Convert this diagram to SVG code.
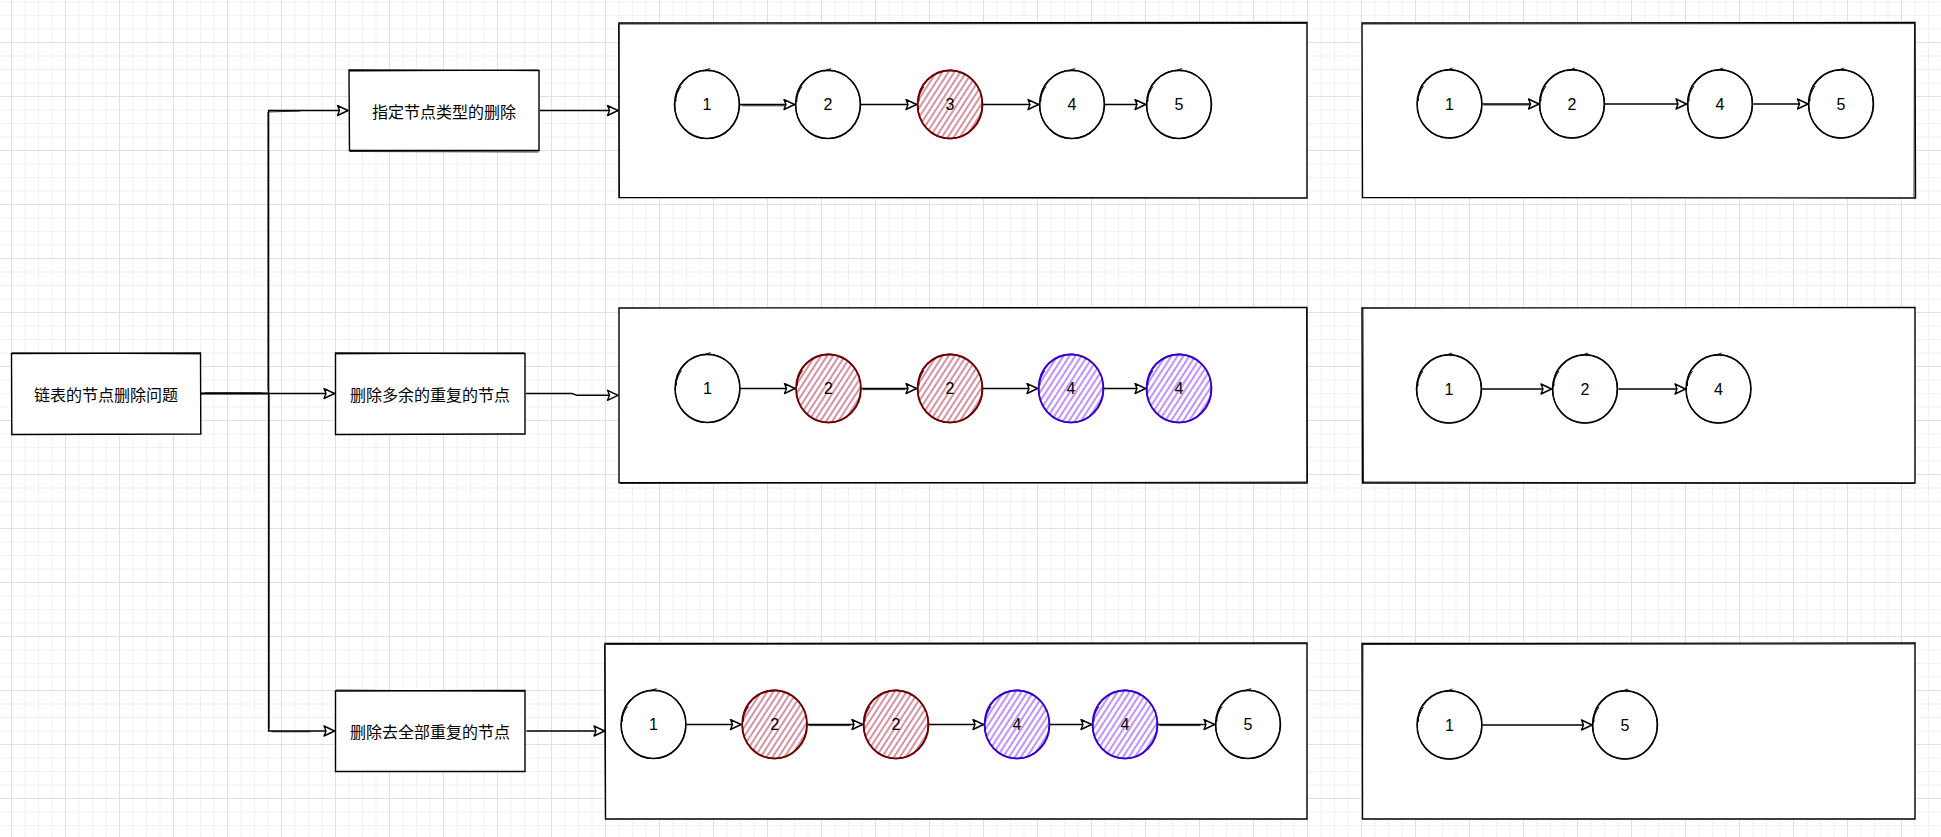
<svg xmlns="http://www.w3.org/2000/svg" xmlns:xlink="http://www.w3.org/1999/xlink" width="1941" height="837" viewBox="0 0 1941 837">
<style>
.sk{fill:none;stroke:#000;stroke-width:1.3;stroke-linejoin:round;stroke-linecap:round}
.sk2{fill:none;stroke:#000;stroke-width:0.8;stroke-linecap:round}
.box{fill:#fff;stroke:#000;stroke-width:1.4}
.cjk{font-family:"Noto Sans CJK SC","Liberation Sans",sans-serif;font-size:16px;fill:#000;text-anchor:middle;dominant-baseline:central}
.num{font-family:"Liberation Sans","DejaVu Sans",sans-serif;font-size:16px;fill:#000;text-anchor:middle;dominant-baseline:central}
.ln{fill:none;stroke:#000;stroke-width:1.4;marker-end:url(#ah)}
</style>
<defs>
<pattern id="grid" patternUnits="userSpaceOnUse" width="54" height="54" x="11" y="42">
<path d="M14,0V54M27.5,0V54M41,0V54M0,14H54M0,27.5H54M0,41H54" stroke="#f1f1f1" stroke-width="1"/>
<path d="M0.5,0V54M0,0.5H54" stroke="#e0e0e0" stroke-width="1"/>
</pattern>
<pattern id="hR" patternUnits="userSpaceOnUse" width="5" height="6" patternTransform="rotate(33)">
<line x1="1" y1="0" x2="1" y2="6" stroke="#a20025" stroke-width="1" stroke-opacity="0.85"/>
</pattern>
<pattern id="hB" patternUnits="userSpaceOnUse" width="5" height="6" patternTransform="rotate(33)">
<line x1="1" y1="0" x2="1" y2="6" stroke="#6a00ff" stroke-width="1" stroke-opacity="0.85"/>
</pattern>
<marker id="ah" markerUnits="userSpaceOnUse" markerWidth="14" markerHeight="12" refX="12" refY="6" orient="auto">
<path d="M1.5,1 L12,6 L1.5,11 L3.5,6 Z" fill="#fff" stroke="#000" stroke-width="1.4" stroke-linejoin="round"/>
</marker>
<g id="circ">
<path d="M-32.5,0C-32.5,-19 -18,-34 0,-34C18,-34 32.5,-19 32.5,0C32.5,19 18,34 0,34C-18,34 -32.5,19 -32.5,0Z" fill="#fff" stroke="#000" stroke-width="1.5"/>
<path d="M-31,-3C-33,-21 -16,-35.5 2,-34.5C20,-33 33.5,-17 32,2C31,20 16,35 -2,34C-20,33 -33.5,18 -32,-2C-31.5,-8 -29,-14 -26,-18" fill="none" stroke="#000" stroke-width="1"/>
<path d="M-4,-33.5L3,-36" fill="none" stroke="#000" stroke-width="0.9"/>
</g>
<g id="circR">
<path d="M-32.5,0C-32.5,-19 -18,-34 0,-34C18,-34 32.5,-19 32.5,0C32.5,19 18,34 0,34C-18,34 -32.5,19 -32.5,0Z" fill="url(#hR)" stroke="#6f0000" stroke-width="1.8"/>
<path d="M-31,-3C-33,-21 -16,-35.5 2,-34.5C20,-33 33.5,-17 32,2C31,20 16,35 -2,34C-20,33 -33.5,18 -32,-2C-31.5,-8 -29,-14 -26,-18" fill="none" stroke="#6f0000" stroke-width="1.1"/>
</g>
<g id="circB">
<path d="M-32.5,0C-32.5,-19 -18,-34 0,-34C18,-34 32.5,-19 32.5,0C32.5,19 18,34 0,34C-18,34 -32.5,19 -32.5,0Z" fill="url(#hB)" stroke="#3700cc" stroke-width="1.8"/>
<path d="M-31,-3C-33,-21 -16,-35.5 2,-34.5C20,-33 33.5,-17 32,2C31,20 16,35 -2,34C-20,33 -33.5,18 -32,-2C-31.5,-8 -29,-14 -26,-18" fill="none" stroke="#3700cc" stroke-width="1.1"/>
</g>
</defs>
<rect x="0" y="0" width="1941" height="837" fill="#fff"/>
<rect x="0" y="0" width="1941" height="837" fill="url(#grid)"/>

<!-- panels -->
<g id="panel1"><path class="box" d="M619,23 L1307,22.5 L1307,198 L619,197.5 Z"/><path class="sk2" d="M620,24 L1306,23.5 M618.5,24 L619.5,197"/></g>
<g id="panel2"><path class="box" d="M619,308 L1307,307.5 L1307,483 L619,482.5 Z"/><path class="sk2" d="M620,483.5 L1306,482 M1306.5,309 L1307.5,482"/></g>
<g id="panel3"><path class="box" d="M605,643.5 L1307,643 L1307,819 L605.5,819 Z"/><path class="sk2" d="M606,644.5 L1306,643.8 M604.5,645 L605.5,818"/></g>
<g id="panel4"><path class="box" d="M1362,23 L1915,22.5 L1915.5,198 L1362.5,197.5 Z"/><path class="sk2" d="M1363,24 L1914,23.6 M1914.5,24 L1914,197"/></g>
<g id="panel5"><path class="box" d="M1362,308 L1915,307.5 L1915,483 L1362.5,483 Z"/><path class="sk2" d="M1363,482 L1914,483.5 M1363,309 L1363.5,482"/></g>
<g id="panel6"><path class="box" d="M1362,643.5 L1915,643 L1915,819 L1362.5,819 Z"/><path class="sk2" d="M1363,644.5 L1914,644 M1363,645 L1362.5,818"/></g>

<!-- connectors -->
<g id="connectors">
<path class="ln" d="M201,393.5 H268.6 V110.5 H348"/>
<path class="sk2" d="M205,392.8 H262 M267.9,390 V112 L300,111"/>
<path class="ln" d="M201,393.5 H334.5"/>
<path class="ln" d="M201,393.5 H268.6 V731 H334.5"/>
<path class="sk2" d="M269.2,395 V729 M272,731.8 H310"/>
<path class="ln" d="M540,110.5 H618"/>
<path class="ln" d="M526,393.5 H572 L577,395.3 H618"/>
<path class="ln" d="M526.5,731 H604.5"/>
<!-- panel 1 -->
<path class="ln" d="M740,104.5 H794.5"/><path class="sk2" d="M742,105.8 H785"/>
<path class="ln" d="M861,104.5 H916.5"/>
<path class="ln" d="M983,104.5 H1038.5"/>
<path class="ln" d="M1105,104.5 H1145.5"/>
<!-- panel 2 -->
<path class="ln" d="M740.5,388.5 H795"/>
<path class="ln" d="M861.5,388.5 H916.5"/><path class="sk2" d="M863,389.6 H905"/>
<path class="ln" d="M983,388.5 H1037.5"/>
<path class="ln" d="M1104,388.5 H1145.5"/>
<!-- panel 3 -->
<path class="ln" d="M686.5,724.5 H741"/>
<path class="ln" d="M807.6,724.5 H862.5"/><path class="sk2" d="M809,725.6 H850"/>
<path class="ln" d="M929,724.5 H983.5"/>
<path class="ln" d="M1050,724.5 H1091.5"/>
<path class="ln" d="M1158,724.5 H1214.5"/><path class="sk2" d="M1160,725.6 H1200"/>
<!-- panel 4 -->
<path class="ln" d="M1482.5,104 H1539"/><path class="sk2" d="M1484,105 H1530"/>
<path class="ln" d="M1605,104 H1686.5"/>
<path class="ln" d="M1753.5,104 H1808"/>
<!-- panel 5 -->
<path class="ln" d="M1482,389 H1551.5"/>
<path class="ln" d="M1618.5,389 H1685.5"/>
<!-- panel 6 -->
<path class="ln" d="M1482.5,725 H1592"/>
</g>

<!-- boxes -->
<g id="root"><path class="box" d="M11.5,353.5 L200.5,353 L200.8,434 L11.8,434.5 Z"/><path class="sk2" d="M12.5,352.8 L199.5,354"/><text class="cjk" x="106" y="393.5">链表的节点删除问题</text></g>
<g id="box1"><path class="box" d="M349,70 L539,70.5 L539,150.5 L349.5,150.5 Z"/><path class="sk2" d="M350,71.2 L538,70 M350,151.5 L538,152"/><text class="cjk" x="444" y="110.5">指定节点类型的删除</text></g>
<g id="box2"><path class="box" d="M335.5,353 L525,353.5 L525,434 L335.5,434.5 Z"/><path class="sk2" d="M336.5,354 L524,352.8"/><text class="cjk" x="430" y="393.5">删除多余的重复的节点</text></g>
<g id="box3"><path class="box" d="M335.5,691 L525,690.5 L525,771.5 L335.5,771.5 Z"/><path class="sk2" d="M336.5,690 L524,691.5"/><text class="cjk" x="430" y="731">删除去全部重复的节点</text></g>

<!-- panel 1 nodes -->
<g id="p1n1"><use href="#circ" x="707" y="104.5"/><text class="num" x="707" y="104.5">1</text></g>
<g id="p1n2"><use href="#circ" x="828" y="104.5"/><text class="num" x="828" y="104.5">2</text></g>
<g id="p1n3"><use href="#circR" x="950" y="104.5"/><text class="num" x="950" y="104.5">3</text></g>
<g id="p1n4"><use href="#circ" x="1072" y="104.5"/><text class="num" x="1072" y="104.5">4</text></g>
<g id="p1n5"><use href="#circ" x="1179" y="104.5"/><text class="num" x="1179" y="104.5">5</text></g>
<!-- panel 2 nodes -->
<g id="p2n1"><use href="#circ" x="707.5" y="388.5"/><text class="num" x="707.5" y="388.5">1</text></g>
<g id="p2n2"><use href="#circR" x="828.5" y="388.5"/><text class="num" x="828.5" y="388.5">2</text></g>
<g id="p2n3"><use href="#circR" x="950" y="388.5"/><text class="num" x="950" y="388.5">2</text></g>
<g id="p2n4"><use href="#circB" x="1071" y="388.5"/><text class="num" x="1071" y="388.5">4</text></g>
<g id="p2n5"><use href="#circB" x="1179" y="388.5"/><text class="num" x="1179" y="388.5">4</text></g>
<!-- panel 3 nodes -->
<g id="p3n1"><use href="#circ" x="653.5" y="724.5"/><text class="num" x="653.5" y="724.5">1</text></g>
<g id="p3n2"><use href="#circR" x="774.6" y="724.5"/><text class="num" x="774.6" y="724.5">2</text></g>
<g id="p3n3"><use href="#circR" x="896" y="724.5"/><text class="num" x="896" y="724.5">2</text></g>
<g id="p3n4"><use href="#circB" x="1017" y="724.5"/><text class="num" x="1017" y="724.5">4</text></g>
<g id="p3n5"><use href="#circB" x="1125" y="724.5"/><text class="num" x="1125" y="724.5">4</text></g>
<g id="p3n6"><use href="#circ" x="1248" y="724.5"/><text class="num" x="1248" y="724.5">5</text></g>
<!-- panel 4 nodes -->
<g id="p4n1"><use href="#circ" x="1449.5" y="104"/><text class="num" x="1449.5" y="104">1</text></g>
<g id="p4n2"><use href="#circ" x="1572" y="104"/><text class="num" x="1572" y="104">2</text></g>
<g id="p4n3"><use href="#circ" x="1720" y="104"/><text class="num" x="1720" y="104">4</text></g>
<g id="p4n4"><use href="#circ" x="1841" y="104"/><text class="num" x="1841" y="104">5</text></g>
<!-- panel 5 nodes -->
<g id="p5n1"><use href="#circ" x="1449" y="389"/><text class="num" x="1449" y="389">1</text></g>
<g id="p5n2"><use href="#circ" x="1585" y="389"/><text class="num" x="1585" y="389">2</text></g>
<g id="p5n3"><use href="#circ" x="1718.5" y="389"/><text class="num" x="1718.5" y="389">4</text></g>
<!-- panel 6 nodes -->
<g id="p6n1"><use href="#circ" x="1449.5" y="725"/><text class="num" x="1449.5" y="725">1</text></g>
<g id="p6n2"><use href="#circ" x="1625" y="725"/><text class="num" x="1625" y="725">5</text></g>
</svg>
